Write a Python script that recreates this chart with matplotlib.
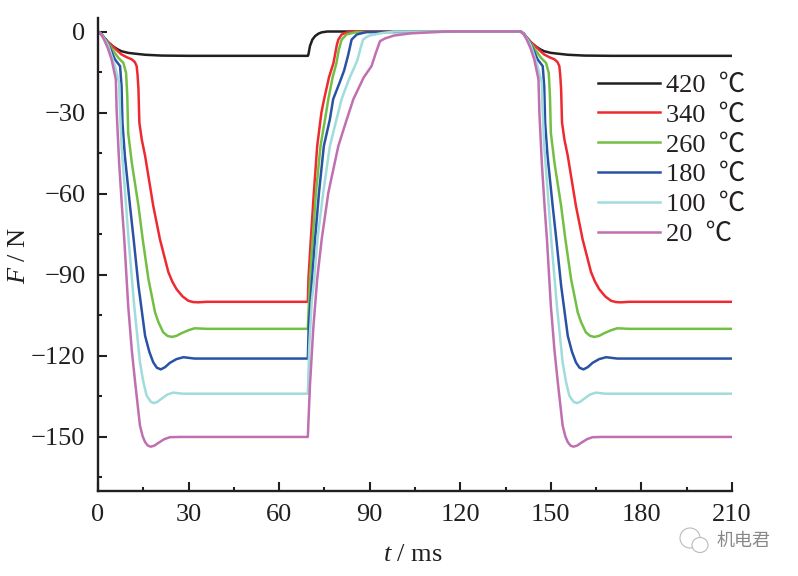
import matplotlib
matplotlib.use('Agg')
import matplotlib.pyplot as plt
from matplotlib.patches import Ellipse
from matplotlib.ticker import MultipleLocator

plt.rcParams['font.family'] = ['Liberation Serif', 'Noto Sans CJK SC', 'DejaVu Sans']
plt.rcParams['mathtext.fontset'] = 'custom'
plt.rcParams['mathtext.it'] = 'Liberation Serif:italic'
plt.rcParams['mathtext.rm'] = 'Liberation Serif'

labels = ['420  ℃', '340  ℃', '260  ℃', '180  ℃', '100  ℃', '20  ℃']
colors = ['#231f20', '#ee2a30', '#72bf44', '#2a52a4', '#a0dcdc', '#c06fb0']

# load phase, 0-70 ms (also repeats from 140 ms)
t_load_420 = [0, 1, 2, 3.4, 5, 6.5, 7.8, 10, 12.3, 15.6, 21, 30, 69.5]
f_load_420 = [0, -0.8, -2.2, -4, -5.5, -6.6, -7.3, -7.9, -8.2, -8.6, -8.9, -9, -9]
t_load_340 = [0, 1, 2, 3.4, 5, 6.5, 7.8, 9.5, 11.2, 12.2, 12.8, 13.1, 13.4, 13.7, 14.5, 15.6, 18.3, 20.5, 23.3, 24.6, 26, 28, 29.9, 31.5, 33.2, 36, 69.5]
f_load_340 = [0, -0.8, -2.2, -4, -5.6, -7.2, -8.5, -9.5, -10.3, -11.3, -12.8, -16, -21.4, -33.7, -40, -46, -64.5, -76.8, -89, -92.5, -95.3, -98, -99.6, -100.1, -100.2, -100, -100]
t_load_260 = [0, 1, 2, 3.4, 5, 6.7, 8.4, 9.3, 9.7, 10, 11.2, 13.4, 14.8, 16.7, 18.9, 20, 21.6, 23, 24.4, 26, 27.7, 30, 32, 36, 69.5]
f_load_260 = [0, -0.8, -2.3, -4.4, -7, -9.7, -11.6, -15.3, -23.9, -37.5, -48.6, -64.5, -76.8, -91.6, -103.9, -107.5, -111.3, -112.6, -113, -112.6, -111.6, -110.5, -109.8, -110, -110]
t_load_180 = [0, 1, 2, 3.4, 5.6, 7.3, 7.8, 8.1, 8.9, 10.6, 11.8, 13.4, 15.6, 17, 18.3, 19.5, 20.8, 22.2, 23.8, 26, 28.3, 32, 69.5]
f_load_180 = [0, -0.8, -2.4, -4.8, -10.3, -12.8, -20.2, -33.7, -46, -64.5, -76.8, -94, -112.6, -118.5, -122.4, -124.4, -125, -124.2, -122.6, -121.2, -120.5, -121, -121]
t_load_100 = [0, 1, 2, 3.4, 5.6, 7, 7.3, 7.8, 9, 10.2, 12, 13.9, 15, 16.1, 17.5, 18.6, 19.7, 21, 23, 24.9, 28, 69.5]
f_load_100 = [0, -0.9, -2.5, -5.2, -12.8, -19, -30, -42.4, -60, -78, -101.5, -122.4, -129.5, -134.7, -137, -137.5, -137, -135.9, -134.3, -133.6, -134, -134]
t_load_20 = [0, 1, 2, 3.2, 4.5, 5.9, 6.2, 7, 8, 8.7, 10, 11.2, 12.3, 13.9, 14.8, 15.6, 16.5, 17.5, 18.7, 20, 22, 23.8, 27, 69.5]
f_load_20 = [0, -1, -3, -6, -10.3, -17.7, -30, -48.6, -66, -76.8, -101.5, -118, -129.8, -145.8, -149.8, -151.9, -153.2, -153.6, -153.2, -152.2, -150.8, -150.1, -150, -150]

# release phase, 70-140 ms
t_rel_420 = [69.7, 70.2, 71, 71.9, 73, 74.1, 76, 140]
f_rel_420 = [-8.5, -5.4, -3, -1.7, -0.8, -0.3, 0, 0]
t_rel_340 = [69.7, 70.5, 71.5, 72.6, 74, 74.9, 76.5, 78, 78.6, 79.1, 79.6, 80.7, 82, 84, 140]
f_rel_340 = [-91.6, -76.8, -59.6, -42.4, -30, -25, -17, -11.6, -8, -5, -3, -1.1, -0.5, 0, 0]
t_rel_260 = [70.2, 71.1, 72.2, 73.7, 75.2, 76.3, 77.7, 79, 79.7, 80.7, 82.3, 85.6, 140]
f_rel_260 = [-91.6, -76.8, -59.6, -42.4, -32.5, -25, -17, -11.6, -7, -3, -1.1, -0.2, 0]
t_rel_180 = [69.8, 70.9, 71.9, 73.2, 74.8, 76.8, 77.9, 80, 81.5, 82.8, 83.4, 84, 85.7, 88.9, 140]
f_rel_180 = [-108.9, -91.6, -76.8, -59.6, -42.4, -32.5, -25, -19, -14.5, -9, -6, -3, -1.1, -0.2, 0]
t_rel_100 = [70, 70.8, 71.6, 72.7, 74.6, 76.8, 79, 80.7, 83, 85, 86, 87, 87.8, 89, 90, 93.4, 98, 140]
f_rel_100 = [-116, -100, -91.6, -76.8, -59.6, -42.4, -32.5, -25, -18, -13, -10.3, -6, -3, -2, -1.5, -0.7, 0, 0]
t_rel_20 = [70.2, 71.3, 72.6, 74.1, 76.3, 79.6, 82.4, 84.6, 88, 90.6, 92, 93.4, 95, 98, 103.4, 115, 140]
f_rel_20 = [-131, -110, -91.6, -76.8, -59.6, -42.4, -32.5, -25, -17, -12.8, -8, -3.6, -2.6, -1.5, -0.7, 0, 0]

t_load = [t_load_420, t_load_340, t_load_260, t_load_180, t_load_100, t_load_20]
f_load = [f_load_420, f_load_340, f_load_260, f_load_180, f_load_100, f_load_20]
t_rel = [t_rel_420, t_rel_340, t_rel_260, t_rel_180, t_rel_100, t_rel_20]
f_rel = [f_rel_420, f_rel_340, f_rel_260, f_rel_180, f_rel_100, f_rel_20]

fig = plt.figure(figsize=(7.98, 5.76), dpi=100)
ax = fig.add_axes([98 / 798, 1 - 491 / 576, (732 - 98) / 798, (491 - 18) / 576])

for i in range(len(labels)):
    t = t_load[i] + t_rel[i] + [v + 140 for v in t_load[i]] + [210]
    f = f_load[i] + f_rel[i] + f_load[i] + [f_load[i][-1]]
    ax.plot(t, f, color=colors[i], lw=1.8, label=labels[i], solid_joinstyle='round')

ax.set_xlim(0, 210)
ax.set_ylim(-170, 5)
ax.xaxis.set_major_locator(MultipleLocator(30))
ax.xaxis.set_minor_locator(MultipleLocator(15))
ax.yaxis.set_major_locator(MultipleLocator(30))
ax.yaxis.set_minor_locator(MultipleLocator(15))
ax.tick_params(which='major', direction='in', length=6.5, width=1.5, labelsize=19, colors='#231f20')
ax.tick_params(which='minor', direction='in', length=3, width=1.5, colors='#231f20')
ax.tick_params(axis='x', pad=9.5)
ax.tick_params(axis='y', pad=9)
ax.spines['top'].set_visible(False)
ax.spines['right'].set_visible(False)
ax.spines['left'].set_linewidth(1.7)
ax.spines['bottom'].set_linewidth(1.7)
ax.spines['left'].set_color('#231f20')
ax.spines['bottom'].set_color('#231f20')

fig.text(413 / 798, 1 - 555 / 576, r'$\mathit{t}$ / ms', fontsize=19, ha='center', va='center', color='#231f20')
fig.text(19 / 798, 1 - 255 / 576, r'$\mathit{F}$ / N', fontsize=19, rotation=90, ha='center', va='center', color='#231f20')

leg = ax.legend(loc='upper left', bbox_to_anchor=(0.789, 0.883), frameon=False, fontsize=19,
                handlelength=2.35, handletextpad=0.23, labelspacing=0.24, borderpad=0, borderaxespad=0)
for txt in leg.get_texts():
    txt.set_color('#231f20')

# watermark
fig.text(744 / 798, 1 - 541 / 576, '机电君', fontsize=13, color='#888888', ha='center', va='center',
         family=['Noto Sans CJK SC', 'DejaVu Sans'])
for cx, cy, w, h in [(690, 538, 20, 20), (700, 545, 16, 15)]:
    fig.add_artist(Ellipse((cx / 798, 1 - cy / 576), w / 798, h / 576, transform=fig.transFigure,
                           fc='white', ec='#bbbbbb', lw=0.8))

fig.savefig('out.png', dpi=100)
